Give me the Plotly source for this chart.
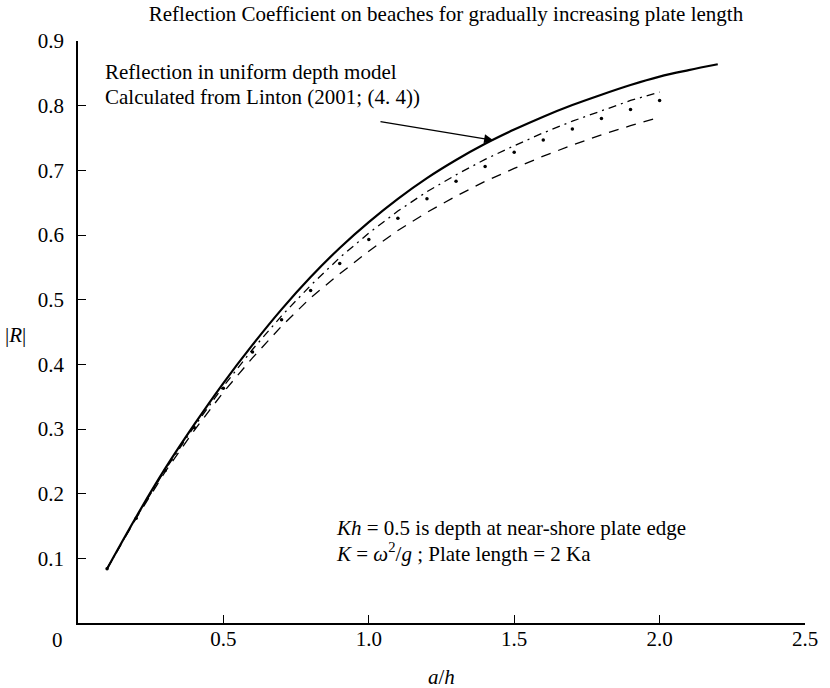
import plotly.graph_objects as go

# ---- data ----
x_solid = [0.1, 0.2, 0.3, 0.4, 0.5, 0.6, 0.7, 0.8, 0.9, 1.0, 1.1, 1.2, 1.3, 1.4, 1.5,
           1.6, 1.7, 1.8, 1.9, 2.0, 2.1, 2.2]
r_uniform = [0.084, 0.164, 0.239, 0.307, 0.371, 0.430, 0.485, 0.535, 0.580, 0.620, 0.656,
             0.688, 0.716, 0.741, 0.763, 0.783, 0.801, 0.817, 0.832, 0.845, 0.855, 0.864]

x_beach = [0.1, 0.2, 0.3, 0.4, 0.5, 0.6, 0.7, 0.8, 0.9, 1.0, 1.1, 1.2, 1.3, 1.4, 1.5,
           1.6, 1.7, 1.8, 1.9, 2.0]
r_dashdot = [0.084, 0.163, 0.237, 0.304, 0.366, 0.423, 0.475, 0.522, 0.565, 0.603, 0.637,
             0.667, 0.693, 0.717, 0.738, 0.758, 0.776, 0.792, 0.808, 0.821]
r_dots = [0.084, 0.162, 0.236, 0.302, 0.363, 0.419, 0.469, 0.514, 0.556, 0.593, 0.626,
          0.656, 0.683, 0.706, 0.728, 0.747, 0.764, 0.780, 0.794, 0.808]
r_dashed = [0.084, 0.162, 0.234, 0.298, 0.357, 0.410, 0.459, 0.503, 0.540, 0.575, 0.607,
            0.635, 0.660, 0.683, 0.703, 0.722, 0.739, 0.755, 0.769, 0.782]

x_ticks = [0.5, 1.0, 1.5, 2.0, 2.5]
x_ticktext = ["0.5", "1.0", "1.5", "2.0", "2.5"]
y_ticks = [0.1, 0.2, 0.3, 0.4, 0.5, 0.6, 0.7, 0.8, 0.9]
y_ticktext = ["0.1", "0.2", "0.3", "0.4", "0.5", "0.6", "0.7", "0.8", "0.9"]

FONT = "Liberation Serif"
FS = 21

fig = go.Figure()
fig.add_trace(go.Scatter(x=x_beach, y=r_dashed, mode="lines",
                         line=dict(color="black", width=1.3, dash="10px,8px"),
                         showlegend=False))
fig.add_trace(go.Scatter(x=x_beach, y=r_dashdot, mode="lines",
                         line=dict(color="black", width=1.3, dash="8px,5px,2px,5px"),
                         showlegend=False))
fig.add_trace(go.Scatter(x=x_beach, y=r_dots, mode="markers",
                         marker=dict(color="black", size=3.5),
                         showlegend=False))
fig.add_trace(go.Scatter(x=x_solid, y=r_uniform, mode="lines",
                         line=dict(color="black", width=2.2, shape="spline"),
                         showlegend=False))

fig.update_layout(
    width=830, height=688,
    margin=dict(l=78, r=15, t=41, b=65),
    paper_bgcolor="white", plot_bgcolor="white",
    font=dict(family=FONT, size=FS, color="black"),
    title=dict(text="Reflection Coefficient on beaches for gradually increasing plate length",
               xref="container", yref="container", x=446 / 830, y=1 - 14 / 688,
               xanchor="center", yanchor="middle",
               font=dict(family=FONT, size=FS, color="black")),
    xaxis=dict(range=[0, 2.5], tickvals=x_ticks, ticktext=x_ticktext,
               showgrid=False, zeroline=False, showline=True, linecolor="black",
               linewidth=1.5, ticks="inside", ticklen=8, tickcolor="black",
               tickwidth=1.2, ticklabelstandoff=-4, fixedrange=True,
               tickfont=dict(family=FONT, size=FS)),
    yaxis=dict(range=[0, 0.9], tickvals=y_ticks, ticktext=y_ticktext,
               showgrid=False, zeroline=False, showline=True, linecolor="black",
               linewidth=1.5, ticks="inside", ticklen=8, tickcolor="black",
               tickwidth=1.2, ticklabelstandoff=8, fixedrange=True,
               tickfont=dict(family=FONT, size=FS)),
)

AF = dict(family=FONT, size=FS, color="black")
annotations = [
    dict(text="0", xref="paper", yref="paper", x=(57 - 78) / 737, y=(622.7 - 640) / 582,
         showarrow=False, xanchor="center", yanchor="middle", font=AF),
    dict(text="<i>a</i>/<i>h</i>", xref="paper", yref="paper", x=(446 - 78) / 737,
         y=(622.7 - 677) / 582, showarrow=False, xanchor="center", yanchor="middle", font=AF),
    dict(text="|<i>R</i>|", xref="paper", yref="paper", x=(15 - 78) / 737,
         y=(622.7 - 335) / 582, showarrow=False, xanchor="center", yanchor="middle", font=AF),
    dict(text="Reflection in uniform depth model", x=0.085, y=0.852, showarrow=False,
         xanchor="left", yanchor="middle", font=AF),
    dict(text="Calculated from Linton (2001; (4. 4))", x=0.085, y=0.813, showarrow=False,
         xanchor="left", yanchor="middle", font=AF),
    dict(text="<i>Kh</i> = 0.5 is depth at near-shore plate edge", x=0.882, y=0.1464,
         showarrow=False, xanchor="left", yanchor="middle", font=AF),
    dict(text="<i>K</i> = <i>ω</i><sup>2</sup>/<i>g</i> ; Plate length = 2 Ka", x=0.882, y=0.1093,
         showarrow=False, xanchor="left", yanchor="middle", font=AF),
    dict(text="", x=1.428, y=0.7464, ax=1.035, ay=0.7758, axref="x", ayref="y",
         showarrow=True, arrowhead=2, arrowsize=1.4, arrowwidth=1.3, arrowcolor="black"),
]
fig.update_layout(annotations=annotations)

fig.write_html("out.html")
